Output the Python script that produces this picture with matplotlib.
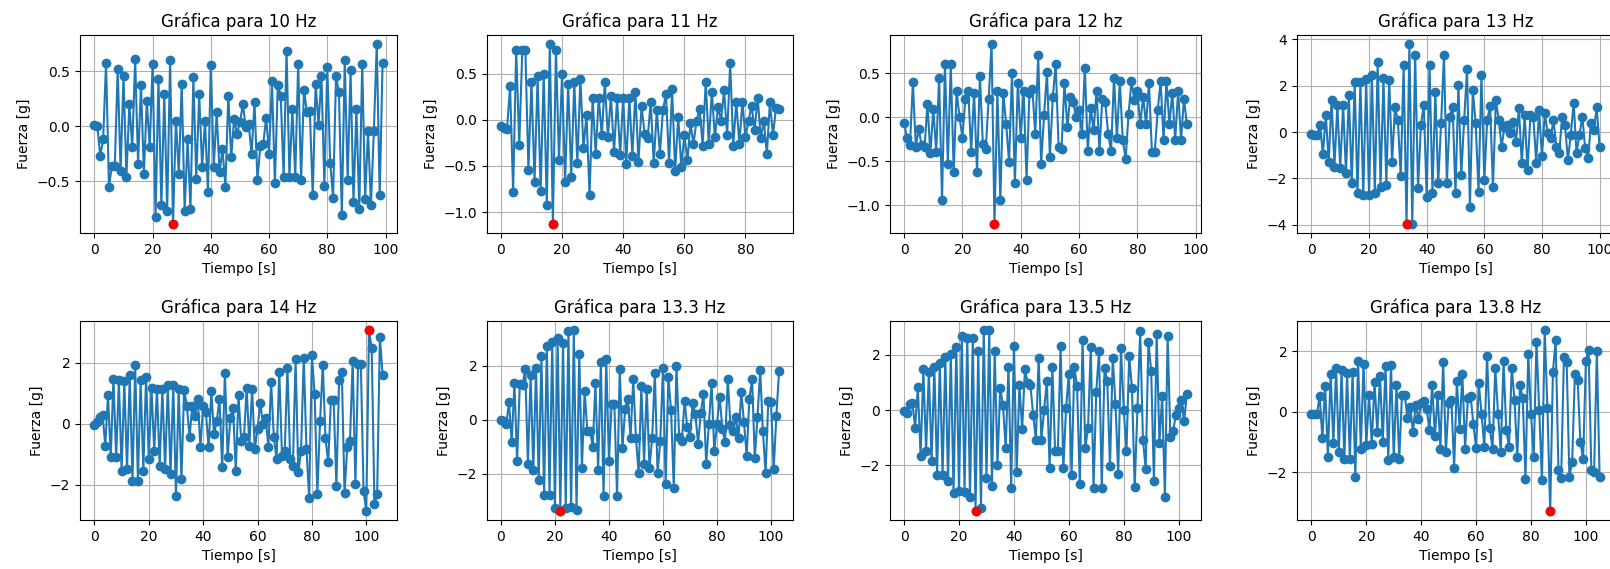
import numpy as np
import matplotlib.pyplot as plt
from matplotlib.ticker import MaxNLocator

# Force readings (g) sampled once per second for each excitation frequency
f10 = [0.01, 0.00, -0.27, -0.12, 0.58, -0.55, -0.36, -0.36, 0.52, -0.41,
       0.46, -0.46, 0.20, -0.19, 0.61, -0.34, 0.38, -0.43, 0.23, -0.19,
       0.57, -0.83, 0.43, -0.72, 0.29, -0.77, 0.60, -0.89, 0.05, -0.43,
       0.39, -0.77, -0.12, -0.75, 0.45, -0.48, 0.29, -0.37, 0.05, -0.60,
       0.56, -0.37, 0.13, -0.42, -0.21, -0.55, 0.28, -0.28, 0.07, -0.07,
       0.04, 0.20, -0.01, 0.02, -0.25, 0.22, -0.49, -0.18, -0.16, 0.08,
       -0.25, 0.41, -0.52, 0.38, 0.28, -0.46, 0.69, -0.46, 0.16, -0.46,
       0.57, -0.49, 0.33, 0.13, 0.14, -0.63, 0.39, 0.01, 0.46, -0.54,
       0.54, -0.33, -0.65, 0.46, 0.31, -0.81, 0.60, -0.49, 0.51, -0.69,
       0.16, -0.75, 0.57, -0.66, -0.04, -0.72, -0.04, 0.75, -0.63, 0.58]

f11 = [-0.07, -0.09, -0.10, 0.36, -0.78, 0.76, -0.27, 0.75, 0.75, -0.54,
       0.41, -0.67, 0.47, -0.77, 0.50, -0.92, 0.82, -1.13, 0.76, -0.44,
       0.49, -0.67, 0.39, -0.62, 0.41, -0.47, 0.44, -0.31, 0.05, -0.82,
       0.23, -0.37, 0.24, -0.17, 0.41, -0.19, 0.26, -0.35, 0.23, -0.38,
       0.24, -0.48, 0.24, -0.39, 0.30, -0.46, 0.15, -0.15, -0.20, 0.19,
       -0.47, 0.10, -0.37, 0.10, 0.28, -0.47, 0.33, -0.56, 0.03, -0.51,
       -0.17, -0.44, -0.04, -0.26, -0.01, 0.12, -0.28, 0.41, -0.26, 0.30,
       -0.19, 0.14, -0.01, 0.32, -0.17, 0.61, -0.28, 0.19, -0.26, 0.19,
       -0.19, -0.01, 0.15, -0.11, 0.24, -0.20, -0.01, -0.37, 0.19, -0.17,
       0.13, 0.12]

f12 = [-0.06, -0.24, -0.32, 0.40, -0.34, -0.13, -0.32, -0.34, 0.15, -0.41,
       0.09, -0.39, 0.45, -0.94, 0.60, -0.53, 0.60, -0.62, 0.30, 0.00,
       -0.23, 0.21, 0.30, -0.39, 0.28, -0.62, 0.47, -0.30, -0.36, 0.21,
       0.83, -1.21, 0.30, -0.94, 0.28, -0.08, -0.51, 0.50, -0.75, 0.39,
       -0.23, 0.30, -0.71, 0.28, 0.32, -0.19, 0.70, -0.53, 0.02, 0.51,
       -0.45, 0.23, 0.60, -0.34, -0.36, 0.39, -0.11, 0.23, 0.17, 0.00,
       0.08, -0.19, 0.56, -0.38, 0.11, -0.15, 0.30, -0.38, 0.21, 0.17,
       -0.19, -0.38, 0.45, -0.24, 0.41, -0.26, -0.47, 0.04, 0.41, 0.19,
       0.30, -0.08, 0.23, -0.08, 0.39, -0.39, -0.39, 0.08, 0.41, -0.26,
       0.41, -0.08, 0.28, -0.26, 0.30, -0.26, 0.21, -0.08]

f13 = [-0.09, -0.13, -0.13, 0.30, -0.95, 0.73, -1.28, 1.38, -1.50, 1.17,
       -1.57, 1.17, -1.78, 1.60, -2.22, 2.17, -2.65, 2.17, -2.72, 2.27,
       -2.72, 2.45, -2.65, 3.04, -2.36, 2.32, -2.29, 2.24, -1.28, 1.06,
       0.52, -1.90, 2.89, -3.97, 3.80, -3.95, 3.32, -2.43, 0.30, 1.17,
       -2.79, 2.89, -2.62, 1.74, -2.22, 0.37, 3.32, -2.19, 0.66, 1.06,
       -2.65, 2.03, -1.86, 0.52, 2.71, -3.22, 1.81, 0.37, -2.58, 2.46,
       -2.07, 0.52, 1.12, -2.36, 1.38, 0.52, -0.63, 0.23, 0.30, -0.06,
       0.45, -0.42, 1.02, -1.35, 0.73, -1.64, 0.73, 0.66, -1.32, 0.95,
       -1.04, 0.80, -0.06, -0.27, 0.52, -0.63, -0.92, 0.66, 0.30, -1.21,
       -0.13, 1.27, -0.90, -0.13, 0.66, -0.71, -1.14, 0.37, 0.09, 1.06,
       -0.66]

f14 = [-0.05, 0.05, 0.22, 0.30, -0.71, 0.95, -1.10, 1.48, -1.10, 1.42,
       -1.53, 1.39, -1.48, 1.59, -1.86, 1.94, -1.86, 1.42, -1.53, 1.53,
       -1.15, 1.17, -0.88, 1.15, -1.37, 1.15, -1.48, 1.28, -1.64, 1.28,
       -2.36, 1.13, -1.81, 1.10, 0.60, -0.44, 0.60, 0.27, 0.82, -0.77,
       0.60, 0.38, -0.77, 1.06, -0.33, 0.08, 0.82, -1.42, 1.68, -1.10,
       0.19, 0.52, -1.53, 0.93, -0.55, -0.44, 1.17, -0.71, 1.13, -0.82,
       -0.16, 0.69, 0.00, 0.19, -0.77, 1.37, -0.44, -1.15, 1.70, -1.04,
       -0.88, 1.83, -1.15, -1.37, 2.12, -1.59, -0.88, 2.14, -0.82, -2.44,
       2.25, 0.99, -2.30, 0.08, 1.94, -0.47, -1.26, 0.77, 0.77, -2.03,
       1.42, 1.70, -2.25, -0.77, -0.55, 2.05, -1.97, 1.97, 1.97, -2.19,
       -2.85, 3.07, 2.47, -2.63, -2.30, 2.85, 1.61]

f133 = [-0.02, -0.05, -0.15, 0.66, -0.83, 1.35, -1.52, 1.32, 1.28, 1.87,
        -1.64, 1.66, -1.87, 1.91, -2.24, 2.37, -2.77, 2.72, -2.77, 2.90,
        -3.26, 3.03, -3.38, 2.84, -3.26, 3.28, -3.24, 3.33, -3.33, 2.44,
        -1.79, 1.07, -0.40, -0.40, -1.00, 1.35, -1.87, 2.16, -2.83, 2.24,
        -1.52, 0.60, 0.60, -2.83, 1.87, -1.05, 0.41, 0.79, -0.67, 1.50,
        -0.67, -1.99, 1.25, -1.62, 1.16, -1.79, -0.67, 1.74, -1.99, -0.80,
        1.91, -2.37, 1.60, 0.35, -2.52, 1.99, -0.65, -0.77, 0.70, -0.27,
        -0.65, 0.62, 0.22, -0.90, 0.25, 0.97, -1.64, -0.15, 1.37, -1.17,
        -0.15, 0.85, -0.34, -0.83, 1.50, -0.21, -0.40, 0.10, -0.67, 1.03,
        -0.09, -1.33, 0.79, 1.50, -1.40, 0.10, 1.84, -0.40, -1.96, 0.70,
        0.66, -1.83, 0.16, 1.82]

f135 = [-0.04, -0.10, 0.21, 0.27, -0.64, 0.84, -1.67, 1.48, -1.49, 1.39,
        -1.85, 1.56, -2.34, 1.72, -2.36, 1.93, -2.58, 2.05, -3.01, 2.29,
        -2.92, 2.69, -2.95, 2.63, -3.16, 2.61, -3.65, 2.15, -3.53, 2.90,
        -2.44, 2.90, -2.76, 2.15, -1.98, 0.79, 0.18, -1.37, 1.56, -2.82,
        2.33, -2.24, 0.91, -0.70, 1.48, 0.99, 0.91, -0.16, -1.07, 1.90,
        -1.07, 0.02, 1.05, -2.10, 1.56, -1.49, -1.49, 2.33, -2.10, 0.08,
        1.32, -2.36, 1.56, 0.87, -2.68, 2.53, -1.37, -0.64, 2.29, -2.82,
        0.67, 2.15, -2.82, 1.52, 1.05, -2.04, 1.88, 0.21, -2.32, 2.24,
        0.02, -1.49, 1.96, 0.79, -2.80, 0.08, 2.87, -1.07, -2.12, 2.48,
        1.42, -2.58, 2.75, -1.19, 0.51, -3.16, 2.69, -0.98, -0.76, -0.16,
        0.08, 0.35, -0.40, 0.59]

f138 = [-0.06, -0.09, -0.09, 0.53, -0.88, 0.86, -1.49, 1.24, -1.02, 1.44,
        -1.33, 1.38, -1.57, 1.27, -1.57, 1.33, -2.15, 1.69, -1.22, 1.60,
        -1.10, 0.55, -1.08, 0.99, -0.66, 1.19, -0.99, 1.52, -1.60, 1.55,
        -1.49, 0.88, -1.57, 0.55, 0.55, -0.20, 0.17, -0.66, 0.22, -0.24,
        0.28, 0.35, 0.10, -0.61, 0.88, -0.80, 0.55, -1.22, 1.66, -1.33,
        0.28, 0.39, -1.86, 1.02, -0.57, 1.24, -1.22, 0.44, 0.53, -0.40,
        -1.19, 0.94, -0.09, -1.16, 1.86, -0.55, -1.22, 1.44, -0.06, -1.33,
        1.68, -0.61, -1.16, 1.46, 0.39, -1.49, 0.88, 0.44, -2.23, 1.93,
        -0.06, -1.49, 2.32, 0.06, -2.27, 2.71, 0.11, -3.29, 1.33, 2.38,
        -1.93, -2.19, 1.82, 1.66, -2.15, -1.66, 1.24, 1.05, -0.99, -1.57,
        1.68, 2.04, -1.93, -1.99, 2.01, -2.15]

titles = ['Gráfica para 10 Hz', 'Gráfica para 11 Hz', 'Gráfica para 12 hz',
          'Gráfica para 13 Hz', 'Gráfica para 14 Hz', 'Gráfica para 13.3 Hz',
          'Gráfica para 13.5 Hz', 'Gráfica para 13.8 Hz']
series = [f10, f11, f12, f13, f14, f133, f135, f138]

W, H = 1610, 569
fig = plt.figure(figsize=(W / 100, H / 100), dpi=100)

# pixel boxes of the panel grid (left, width) per column and (top, bottom) per row
cols = [(80, 317), (487, 306), (890, 311), (1297, 317)]
rows = [(35, 233), (321, 520)]

for k, (title, vals) in enumerate(zip(titles, series)):
    r, c = divmod(k, 4)
    left, width = cols[c]
    top, bottom = rows[r]
    ax = fig.add_axes([left / W, 1 - bottom / H, width / W, (bottom - top) / H])
    y = np.asarray(vals)
    t = np.arange(len(y))
    ax.plot(t, y, 'o-', color='#1f77b4')
    peak = np.argmax(np.abs(y))
    ax.plot(t[peak], y[peak], 'o', color='red', zorder=5)
    ax.yaxis.set_major_locator(MaxNLocator(nbins=5, steps=[1, 2, 2.5, 5, 10]))
    ax.set_title(title, fontsize=12)
    ax.set_xlabel('Tiempo [s]')
    ax.set_ylabel('Fuerza [g]')
    ax.grid(True)

fig.savefig('out.png', dpi=100)
